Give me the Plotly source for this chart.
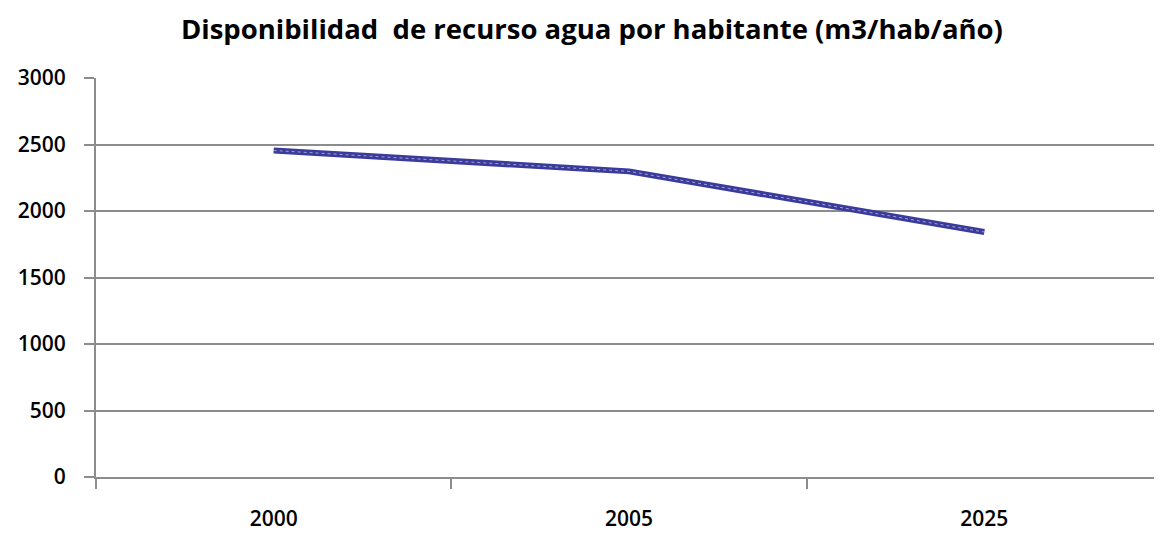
import plotly.graph_objects as go

# data
years = ["2000", "2005", "2025"]
agua_por_hab = [2455, 2298, 1842]
y_ticks = [0, 500, 1000, 1500, 2000, 2500, 3000]

fig = go.Figure()
fig.add_trace(go.Scatter(x=years, y=agua_por_hab, mode="lines",
                         line=dict(color="#3b3b9c", width=6), hoverinfo="skip"))
# thin light highlight on the line, like the excel 3d look
fig.add_trace(go.Scatter(x=years, y=agua_por_hab, mode="lines",
                         line=dict(color="#a0a0d4", width=1, dash="dot"), hoverinfo="skip"))

# page body has an 8px margin, so the figure is a bit smaller than the window
fig.update_layout(
    width=1154, height=527,
    margin=dict(l=88, r=0, t=70, b=58),
    paper_bgcolor="white", plot_bgcolor="white",
    showlegend=False,
    font=dict(family="Open Sans", color="black", size=21),
    title=dict(text="<b>Disponibilidad  de recurso agua por habitante (m3/hab/año)</b>",
               x=0.506, xanchor="center", y=0.96, yanchor="middle",
               font=dict(size=27.5, family="Open Sans")),
)
fig.update_xaxes(type="category", range=[-0.5, 2.5], tickson="boundaries",
                 ticks="outside", ticklen=10, tickwidth=2, tickcolor="#8c8c8c",
                 showline=True, linecolor="#8c8c8c", linewidth=2,
                 showgrid=False, ticklabelstandoff=22,
                 tickfont=dict(size=21, family="Open Sans", weight=600))
fig.update_yaxes(range=[0, 3000], tickvals=y_ticks,
                 ticks="outside", ticklen=10, tickwidth=2, tickcolor="#8c8c8c",
                 showline=True, linecolor="#8c8c8c", linewidth=2,
                 showgrid=True, gridcolor="#8c8c8c", gridwidth=2,
                 zeroline=False, ticklabelstandoff=14,
                 tickfont=dict(size=21, family="Open Sans", weight=600))

fig.write_html("out.html")
